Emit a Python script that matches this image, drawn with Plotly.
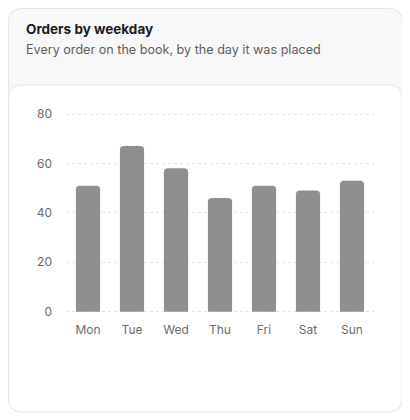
import plotly.graph_objects as go

days = ["Mon", "Tue", "Wed", "Thu", "Fri", "Sat", "Sun"]
orders = [51, 67, 58, 46, 51, 49, 53]
y_ticks = [0, 20, 40, 60, 80]

# the page body keeps its 8px margin, so the figure is 8px smaller and
# every pixel position below is shifted back by 8
OFF = 8
W, H = 410 - OFF, 420 - OFF


def px(x):
    return (x - OFF) / W


def py(y):
    return 1 - (y - OFF) / H


def card(x0, y0, x1, y1, r):
    # rounded rectangle in paper coords, built from page pixel positions
    p = "M %f,%f " % (px(x0 + r), py(y0))
    p += "L %f,%f " % (px(x1 - r), py(y0))
    p += "Q %f,%f %f,%f " % (px(x1), py(y0), px(x1), py(y0 + r))
    p += "L %f,%f " % (px(x1), py(y1 - r))
    p += "Q %f,%f %f,%f " % (px(x1), py(y1), px(x1 - r), py(y1))
    p += "L %f,%f " % (px(x0 + r), py(y1))
    p += "Q %f,%f %f,%f " % (px(x0), py(y1), px(x0), py(y1 - r))
    p += "L %f,%f " % (px(x0), py(y0 + r))
    p += "Q %f,%f %f,%f Z" % (px(x0), py(y0), px(x0 + r), py(y0))
    return p


unit = (311.7 - 114) / 80  # pixels per order on the y axis

fig = go.Figure()
fig.add_trace(go.Bar(
    x=days, y=orders,
    marker=dict(color="#8f8f8f", cornerradius=4, line=dict(width=0)),
    width=0.55,
    hoverinfo="x+y",
))

fig.update_layout(
    width=W, height=H,
    margin=dict(l=0, r=0, t=0, b=0),
    paper_bgcolor="white",
    plot_bgcolor="rgba(0,0,0,0)",
    font=dict(family="Inter, Noto Sans, sans-serif", color="#6b6b6b", size=12),
    showlegend=False,
    shapes=[
        dict(type="path", xref="paper", yref="paper", layer="below",
             path=card(8.5, 8.5, 402.5, 412, 14),
             fillcolor="#f8f8f8", line=dict(color="#e3e3e3", width=1)),
        dict(type="path", xref="paper", yref="paper", layer="below",
             path=card(8.5, 85, 402, 412, 14),
             fillcolor="white", line=dict(color="#e6e6e6", width=1)),
    ],
    annotations=[
        dict(text="<b>Orders by weekday</b>", xref="paper", yref="paper",
             x=px(24), y=py(28.5), xanchor="left", yanchor="middle",
             showarrow=False, font=dict(size=13.5, color="#1a1a1a")),
        dict(text="Every order on the book, by the day it was placed",
             xref="paper", yref="paper",
             x=px(24), y=py(49.5), xanchor="left", yanchor="middle",
             showarrow=False, font=dict(size=12.6, color="#5e5e5e")),
    ],
    xaxis=dict(
        domain=[px(66), px(374)],
        showgrid=False, zeroline=False, showline=False, automargin=False,
        ticks="", tickfont=dict(size=12, color="#6b6b6b"),
        ticklabelstandoff=8,
    ),
    yaxis=dict(
        domain=[py(311.7 + 0.5 * unit), py(114 - 0.5 * unit)],
        range=[-0.5, 80.5],
        tickvals=y_ticks,
        showgrid=True, gridcolor="#e4e4e4", griddash="dot", gridwidth=1,
        zeroline=False, showline=False, ticks="", automargin=False,
        tickfont=dict(size=12, color="#6b6b6b"),
        ticklabelstandoff=13,
    ),
)

fig.write_html("out.html")
